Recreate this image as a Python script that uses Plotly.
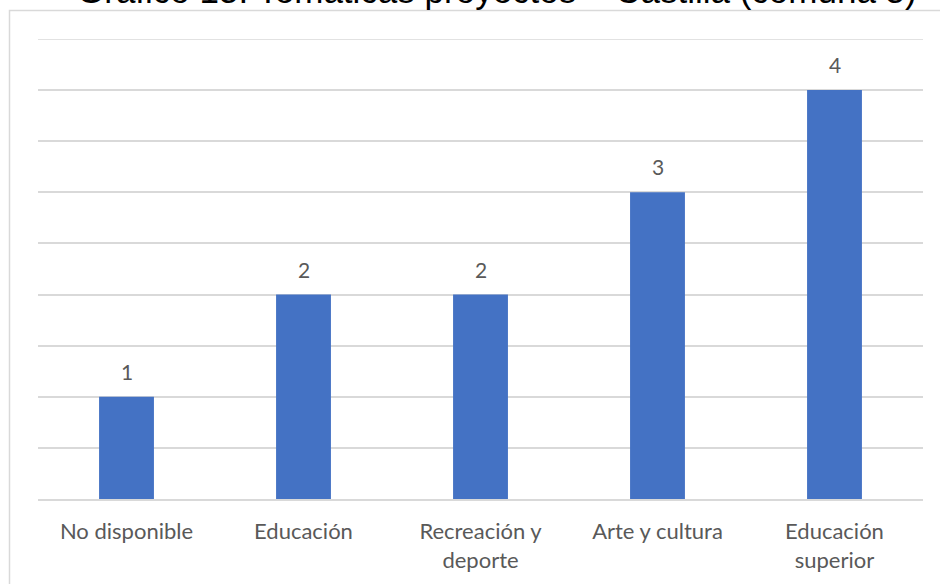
import plotly.graph_objects as go

categories = ["No disponible", "Educación", "Recreación y<br>deporte", "Arte y cultura", "Educación<br>superior"]
values = [1, 2, 2, 3, 4]
title_text = "Gráfico 15. Temáticas proyectos – Castilla (comuna 5)"

W, H = 940, 584
ml, mr, mt, mb = 38, 17, 39, 85
pw, ph = W - ml - mr, H - mt - mb
ymax = 4.5

fig = go.Figure()
fig.add_trace(go.Bar(x=categories, y=values, marker=dict(color="#4472c4", line=dict(width=0)),
                     hoverinfo="skip"))

for c, v in zip(categories, values):
    fig.add_annotation(x=c, y=v, text=str(v), showarrow=False, yanchor="bottom",
                       yshift=11, font=dict(family="Lato", size=21, color="#595959"))

def px_x(p):
    return (p - ml) / pw

def px_y(p):
    return 1 - (p - mt) / ph

# outer chart frame
fig.add_shape(type="rect", xref="paper", yref="paper",
              x0=px_x(9.5), x1=px_x(960), y0=px_y(620), y1=px_y(10.5),
              line=dict(color="#d9d9d9", width=1.5), fillcolor="rgba(0,0,0,0)", layer="below")

# top gridline (plotly omits grid at the range edge)
fig.add_shape(type="line", xref="paper", yref="y", x0=0, x1=1, y0=ymax, y1=ymax,
              line=dict(color="#d9d9d9", width=1.5), layer="below")

fig.add_annotation(xref="paper", yref="paper", x=px_x(497), y=px_y(12), text=title_text,
                   showarrow=False, xanchor="center", yanchor="bottom",
                   font=dict(family="Liberation Sans", size=35, color="#000000"))

fig.update_layout(
    width=W, height=H,
    margin=dict(l=ml, r=mr, t=mt, b=mb, pad=0),
    paper_bgcolor="white", plot_bgcolor="white",
    bargap=0.69, showlegend=False,
    xaxis=dict(showgrid=False, showline=True, linecolor="#d9d9d9", linewidth=1.5,
               ticks="", tickfont=dict(family="Lato", size=22, color="#595959"),
               ticklabelstandoff=12),
    yaxis=dict(range=[0, ymax], dtick=0.5, showticklabels=False, showgrid=True,
               gridcolor="#d9d9d9", gridwidth=1.5, zeroline=False, showline=False),
)

fig.write_html("out.html", config={"displayModeBar": False},
               post_script="document.body.style.margin='0';")
